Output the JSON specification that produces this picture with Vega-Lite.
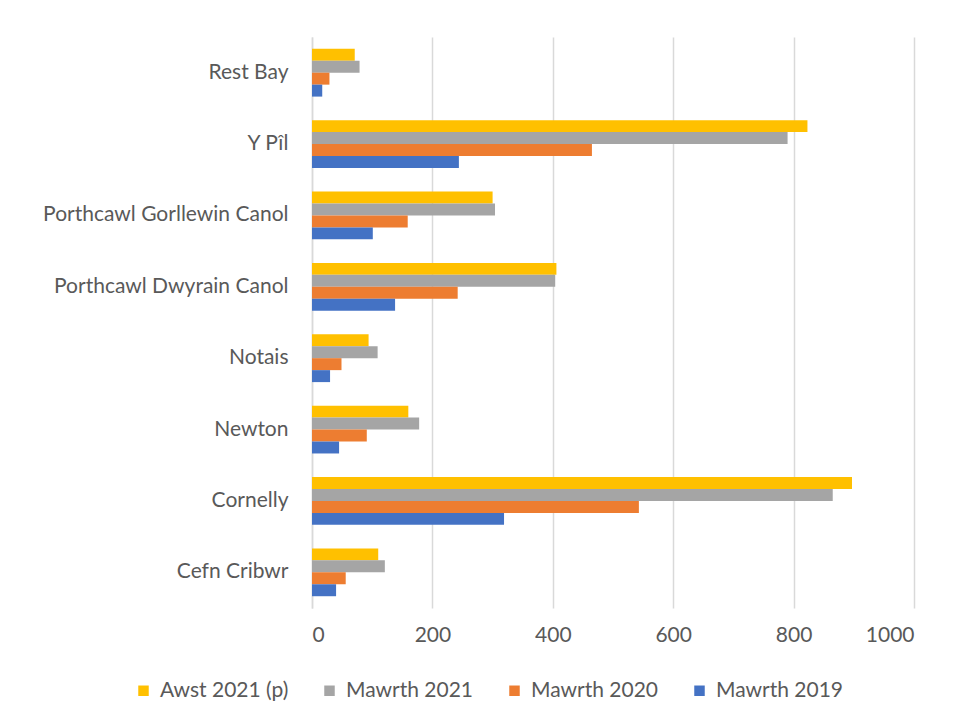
{
  "$schema": "https://vega.github.io/schema/vega-lite/v6.json",
  "autosize": "none",
  "width": 602,
  "height": 571,
  "padding": {"left": 312, "top": 37, "right": 43, "bottom": 117},
  "background": "white",
  "config": {
    "font": "Lato",
    "view": {"stroke": null},
    "axis": {"labelColor": "#595959", "labelFont": "Lato", "labelFontSize": 21}
  },
  "data": {
    "values": [
      {"region": "Rest Bay", "series": "Awst 2021 (p)", "value": 71},
      {"region": "Rest Bay", "series": "Mawrth 2021", "value": 79},
      {"region": "Rest Bay", "series": "Mawrth 2020", "value": 29},
      {"region": "Rest Bay", "series": "Mawrth 2019", "value": 17},
      {"region": "Y Pîl", "series": "Awst 2021 (p)", "value": 823},
      {"region": "Y Pîl", "series": "Mawrth 2021", "value": 790},
      {"region": "Y Pîl", "series": "Mawrth 2020", "value": 465},
      {"region": "Y Pîl", "series": "Mawrth 2019", "value": 244},
      {"region": "Porthcawl Gorllewin Canol", "series": "Awst 2021 (p)", "value": 300},
      {"region": "Porthcawl Gorllewin Canol", "series": "Mawrth 2021", "value": 304},
      {"region": "Porthcawl Gorllewin Canol", "series": "Mawrth 2020", "value": 159},
      {"region": "Porthcawl Gorllewin Canol", "series": "Mawrth 2019", "value": 101},
      {"region": "Porthcawl Dwyrain Canol", "series": "Awst 2021 (p)", "value": 406},
      {"region": "Porthcawl Dwyrain Canol", "series": "Mawrth 2021", "value": 404},
      {"region": "Porthcawl Dwyrain Canol", "series": "Mawrth 2020", "value": 242},
      {"region": "Porthcawl Dwyrain Canol", "series": "Mawrth 2019", "value": 138},
      {"region": "Notais", "series": "Awst 2021 (p)", "value": 94},
      {"region": "Notais", "series": "Mawrth 2021", "value": 109},
      {"region": "Notais", "series": "Mawrth 2020", "value": 49},
      {"region": "Notais", "series": "Mawrth 2019", "value": 30},
      {"region": "Newton", "series": "Awst 2021 (p)", "value": 160},
      {"region": "Newton", "series": "Mawrth 2021", "value": 178},
      {"region": "Newton", "series": "Mawrth 2020", "value": 91},
      {"region": "Newton", "series": "Mawrth 2019", "value": 45},
      {"region": "Cornelly", "series": "Awst 2021 (p)", "value": 897},
      {"region": "Cornelly", "series": "Mawrth 2021", "value": 865},
      {"region": "Cornelly", "series": "Mawrth 2020", "value": 543},
      {"region": "Cornelly", "series": "Mawrth 2019", "value": 319},
      {"region": "Cefn Cribwr", "series": "Awst 2021 (p)", "value": 110},
      {"region": "Cefn Cribwr", "series": "Mawrth 2021", "value": 121},
      {"region": "Cefn Cribwr", "series": "Mawrth 2020", "value": 56},
      {"region": "Cefn Cribwr", "series": "Mawrth 2019", "value": 40}
    ]
  },
  "mark": {"type": "bar"},
  "encoding": {
    "y": {
      "field": "region",
      "type": "nominal",
      "sort": ["Rest Bay", "Y Pîl", "Porthcawl Gorllewin Canol", "Porthcawl Dwyrain Canol", "Notais", "Newton", "Cornelly", "Cefn Cribwr"],
      "scale": {"paddingInner": 0.33, "paddingOuter": 0.165},
      "axis": {"title": null, "ticks": false, "domain": true, "domainColor": "#d9d9d9", "domainWidth": 1.5, "labelPadding": 24, "labelLimit": 0, "grid": false}
    },
    "yOffset": {
      "field": "series",
      "type": "nominal",
      "sort": ["Awst 2021 (p)", "Mawrth 2021", "Mawrth 2020", "Mawrth 2019"],
      "scale": {"paddingInner": 0, "paddingOuter": 0}
    },
    "x": {
      "field": "value",
      "type": "quantitative",
      "scale": {"domain": [0, 1000], "nice": false},
      "axis": {"title": null, "values": [0, 200, 400, 600, 800, 1000], "format": "d", "ticks": false, "domain": false, "grid": true, "gridColor": "#d9d9d9", "gridWidth": 1.5, "labelPadding": 16}
    },
    "color": {
      "field": "series",
      "type": "nominal",
      "sort": ["Awst 2021 (p)", "Mawrth 2021", "Mawrth 2020", "Mawrth 2019"],
      "scale": {"domain": ["Awst 2021 (p)", "Mawrth 2021", "Mawrth 2020", "Mawrth 2019"], "range": ["#FFC000", "#A5A5A5", "#ED7D31", "#4472C4"]},
      "legend": {
        "title": null,
        "orient": "none",
        "direction": "horizontal",
        "legendX": -179,
        "legendY": 643,
        "symbolType": "square",
        "symbolSize": 110,
        "symbolStrokeWidth": 0,
        "labelFont": "Lato",
        "labelFontSize": 21,
        "labelColor": "#595959",
        "columnPadding": 30,
        "labelOffset": 6
      }
    }
  }
}
